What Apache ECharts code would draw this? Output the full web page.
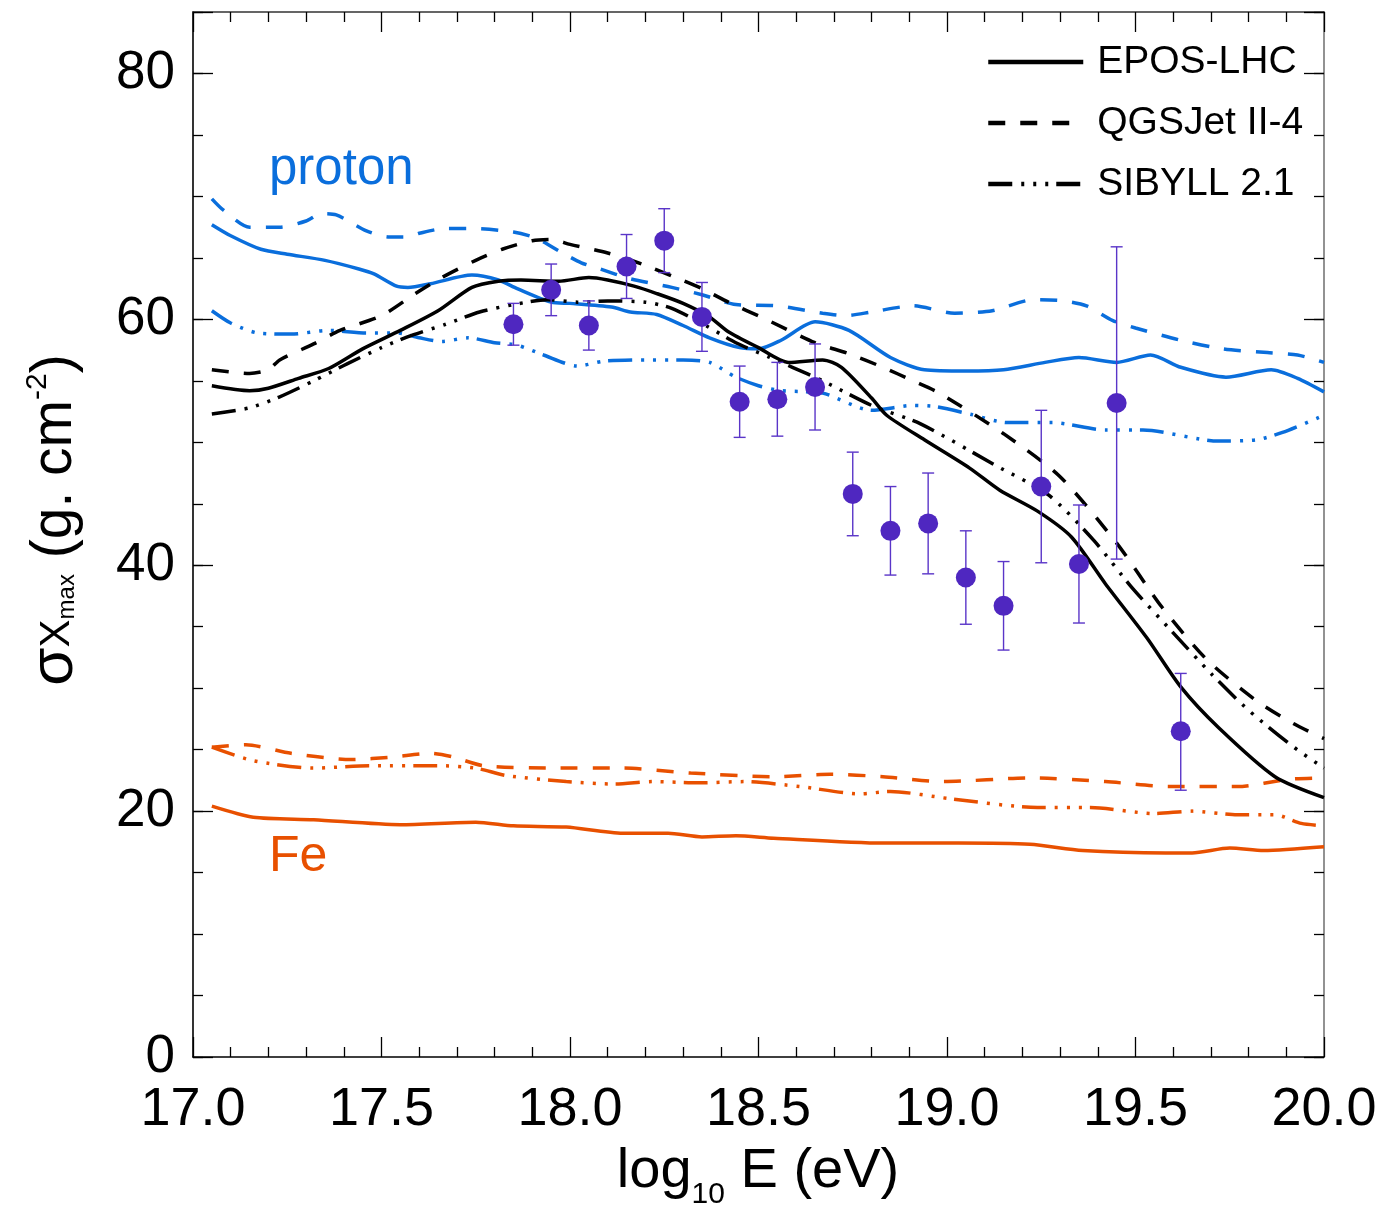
<!DOCTYPE html>
<html><head><meta charset="utf-8">
<script src="https://cdn.jsdelivr.net/npm/echarts@6/dist/echarts.min.js"></script>
<style>html,body{margin:0;padding:0;background:#fff}#c{width:1386px;height:1207px}</style>
</head><body><div id="c"></div>
<script>
// ---- data ----
const energies = [17.85,17.95,18.05,18.15,18.25,18.35,18.45,18.55,18.65,18.75,18.85,18.95,19.05,19.15,19.25,19.35,19.45,19.62];
const sigmaXmax = [59.6,62.4,59.5,64.3,66.4,60.2,53.3,53.5,54.5,45.8,42.8,43.4,39.0,36.7,46.4,40.1,53.2,26.5];
const errHigh = [61.3,64.5,61.5,66.9,69.0,63.0,56.2,56.5,58.0,49.2,46.4,47.5,42.8,40.3,52.6,44.9,65.9,31.2];
const errLow  = [57.9,60.3,57.5,61.7,63.8,57.4,50.4,50.5,51.0,42.4,39.2,39.3,35.2,33.1,40.2,35.3,40.5,21.7];

const protonEPOS = [[17.05,67.7],[17.1,66.8],[17.18,65.7],[17.25,65.3],[17.35,64.8],[17.44,64.1],[17.48,63.7],[17.54,62.7],[17.57,62.6],[17.63,62.9],[17.74,63.6],[17.81,63.2],[17.86,62.5],[17.95,61.4],[18.0,61.3],[18.11,61.0],[18.16,60.6],[18.23,60.4],[18.3,59.5],[18.37,58.5],[18.45,57.7],[18.5,57.6],[18.56,58.3],[18.65,59.8],[18.74,59.1],[18.85,56.9],[18.94,55.9],[19.05,55.8],[19.15,55.9],[19.26,56.5],[19.35,56.9],[19.45,56.5],[19.54,57.1],[19.62,56.1],[19.74,55.3],[19.86,55.9],[19.93,55.2],[20.0,54.1]];
const protonQGSJet = [[17.05,69.8],[17.08,68.9],[17.15,67.5],[17.23,67.5],[17.3,68.0],[17.34,68.6],[17.38,68.5],[17.46,67.2],[17.52,66.7],[17.57,66.7],[17.6,67.0],[17.67,67.4],[17.74,67.4],[17.85,67.1],[17.91,66.6],[17.98,65.4],[18.03,64.6],[18.08,64.1],[18.16,63.3],[18.27,62.6],[18.35,62.0],[18.44,61.2],[18.55,61.1],[18.67,60.5],[18.73,60.3],[18.8,60.6],[18.91,61.1],[19.02,60.5],[19.12,60.7],[19.23,61.6],[19.31,61.5],[19.37,61.1],[19.44,59.9],[19.5,59.3],[19.62,58.3],[19.73,57.6],[19.85,57.3],[19.93,57.1],[20.0,56.5]];
const protonSIBYLL = [[17.05,60.7],[17.1,59.7],[17.17,58.9],[17.26,58.8],[17.36,59.1],[17.46,58.9],[17.54,58.9],[17.6,58.5],[17.66,58.2],[17.73,58.5],[17.8,58.1],[17.86,57.9],[17.93,57.1],[18.02,56.2],[18.09,56.6],[18.2,56.7],[18.3,56.7],[18.37,56.5],[18.44,55.3],[18.5,54.6],[18.56,54.2],[18.67,54.0],[18.8,52.6],[18.91,53.0],[18.97,52.9],[19.06,52.3],[19.16,51.6],[19.28,51.6],[19.42,51.0],[19.52,51.0],[19.72,50.1],[19.82,50.2],[19.89,50.8],[20.0,52.2]];

const ironEPOS = [[17.05,20.4],[17.16,19.5],[17.32,19.3],[17.55,18.9],[17.75,19.1],[17.85,18.8],[17.99,18.7],[18.14,18.2],[18.26,18.2],[18.35,17.9],[18.44,18.0],[18.54,17.8],[18.83,17.4],[19.03,17.4],[19.22,17.3],[19.36,16.8],[19.58,16.6],[19.65,16.6],[19.75,17.0],[19.84,16.8],[20.0,17.1]];
const ironQGSJet = [[17.05,25.2],[17.14,25.4],[17.26,24.7],[17.42,24.2],[17.53,24.4],[17.63,24.7],[17.69,24.4],[17.77,23.7],[17.95,23.5],[18.14,23.5],[18.32,23.1],[18.54,22.8],[18.69,23.0],[18.83,22.8],[18.99,22.4],[19.22,22.7],[19.42,22.4],[19.59,22.0],[19.77,22.0],[19.91,22.6],[20.0,22.7]];
const ironSIBYLL = [[17.05,25.2],[17.16,24.1],[17.32,23.5],[17.47,23.7],[17.65,23.7],[17.75,23.5],[17.83,22.9],[17.99,22.4],[18.12,22.2],[18.22,22.4],[18.34,22.3],[18.46,22.4],[18.61,22.0],[18.77,21.4],[18.85,21.6],[19.01,21.0],[19.24,20.3],[19.38,20.3],[19.55,19.8],[19.65,20.0],[19.77,19.7],[19.87,19.7],[19.94,19.0],[20.0,18.8]];

const mixEPOS = [[17.05,54.6],[17.15,54.2],[17.2,54.4],[17.28,55.2],[17.36,56.0],[17.45,57.6],[17.55,59.1],[17.65,60.7],[17.74,62.6],[17.81,63.1],[17.87,63.2],[17.97,63.1],[18.05,63.4],[18.1,63.2],[18.17,62.7],[18.23,62.1],[18.3,61.3],[18.37,60.2],[18.42,59.0],[18.5,57.7],[18.58,56.5],[18.67,56.7],[18.72,56.1],[18.8,53.6],[18.84,52.2],[18.94,50.2],[19.06,47.9],[19.14,46.1],[19.24,44.4],[19.33,42.3],[19.42,38.5],[19.53,34.1],[19.62,30.1],[19.72,26.8],[19.87,22.8],[20.0,21.1]];
const mixQGSJet = [[17.05,55.9],[17.15,55.6],[17.2,55.9],[17.23,56.7],[17.32,58.0],[17.39,59.1],[17.5,60.3],[17.59,62.1],[17.66,63.4],[17.75,64.8],[17.82,65.7],[17.9,66.4],[17.95,66.5],[18.0,66.1],[18.1,65.4],[18.2,64.4],[18.28,63.4],[18.35,62.5],[18.42,61.4],[18.52,60.0],[18.65,58.1],[18.74,57.2],[18.83,56.1],[18.91,55.0],[18.98,54.0],[19.15,50.7],[19.3,47.2],[19.45,41.8],[19.57,36.6],[19.69,32.3],[19.82,29.0],[19.92,27.1],[20.0,25.9]];
const mixSIBYLL = [[17.05,52.3],[17.15,52.8],[17.23,53.7],[17.32,55.0],[17.41,56.4],[17.5,57.7],[17.58,58.7],[17.67,59.6],[17.76,60.6],[17.85,61.2],[17.94,61.6],[18.02,61.4],[18.1,61.5],[18.2,61.4],[18.27,60.9],[18.36,59.5],[18.44,58.1],[18.53,56.9],[18.59,56.1],[18.67,55.0],[18.8,53.0],[18.93,51.5],[19.13,48.1],[19.27,45.7],[19.39,42.0],[19.49,38.2],[19.6,34.5],[19.7,31.2],[19.8,28.2],[19.92,25.2],[20.0,23.5]];

const modelNames = ['EPOS-LHC','QGSJet II-4','SIBYLL 2.1'];

// ---- styling ----
const FONT = '"Liberation Sans", Arial, Helvetica, sans-serif';
const BLUE = '#0a6edc', ORANGE = '#e85000', PURPLE = '#4f27c0', BLACK = '#000';
const DASH = [17, 15];
const DDD = [24, 9, 3, 9, 3, 9, 3, 8];
const styles = ['solid', DASH, DDD];

function curve(name, data, color, type) {
  return {
    type: 'line', name: name, data: data, xAxisIndex: 0, yAxisIndex: 0,
    symbol: 'none', smooth: 0.25, silent: true, z: 3,
    lineStyle: { color: color, width: 3.5, type: type, cap: 'butt' }
  };
}

const series = [
  curve('pE', protonEPOS, BLUE, styles[0]),
  curve('pQ', protonQGSJet, BLUE, styles[1]),
  curve('pS', protonSIBYLL, BLUE, styles[2]),
  curve('fE', ironEPOS, ORANGE, styles[0]),
  curve('fQ', ironQGSJet, ORANGE, styles[1]),
  curve('fS', ironSIBYLL, ORANGE, styles[2]),
  curve('mE', mixEPOS, BLACK, styles[0]),
  curve('mQ', mixQGSJet, BLACK, styles[1]),
  curve('mS', mixSIBYLL, BLACK, styles[2]),
  {
    type: 'custom', name: 'err', xAxisIndex: 0, yAxisIndex: 0, z: 4, silent: true,
    data: energies.map((e, i) => [e, errLow[i], errHigh[i]]),
    encode: { x: 0, y: [1, 2] },
    renderItem: function (params, api) {
      const x = api.value(0);
      const pLo = api.coord([x, api.value(1)]);
      const pHi = api.coord([x, api.value(2)]);
      const cw = 6;
      const st = { stroke: '#5a35c8', lineWidth: 1.4 };
      return { type: 'group', children: [
        { type: 'line', shape: { x1: pLo[0], y1: pLo[1], x2: pHi[0], y2: pHi[1] }, style: st },
        { type: 'line', shape: { x1: pLo[0] - cw, y1: pLo[1], x2: pLo[0] + cw, y2: pLo[1] }, style: st },
        { type: 'line', shape: { x1: pHi[0] - cw, y1: pHi[1], x2: pHi[0] + cw, y2: pHi[1] }, style: st }
      ]};
    }
  },
  {
    type: 'scatter', name: 'data', xAxisIndex: 0, yAxisIndex: 0, z: 5, silent: true,
    symbol: 'circle', symbolSize: 20, itemStyle: { color: PURPLE, opacity: 1 },
    data: energies.map((e, i) => [e, sigmaXmax[i]])
  }
];
modelNames.forEach((n, i) => series.push({
  type: 'line', name: n, data: [], symbol: 'none', xAxisIndex: 0, yAxisIndex: 0,
  lineStyle: { color: BLACK, width: 4.5, type: styles[i], cap: 'butt' }, itemStyle: { color: BLACK }
}));

const tickStyle = { color: '#000', width: 1.3 };
function xAx(pos, showLabel, lineColor) {
  return {
    type: 'value', min: 17, max: 20, interval: 0.5, position: pos,
    axisLine: { show: true, onZero: false, lineStyle: { color: lineColor, width: 1.6 } },
    axisTick: { show: true, inside: true, length: 20, lineStyle: tickStyle },
    minorTick: { show: true, splitNumber: 5, length: 10, lineStyle: tickStyle },
    splitLine: { show: false }, minorSplitLine: { show: false },
    axisLabel: { show: showLabel, fontSize: 54, color: '#000', fontFamily: FONT, margin: 26,
      showMinLabel: true, showMaxLabel: true, hideOverlap: false, formatter: v => v.toFixed(1) }
  };
}
function yAx(pos, interval, tickLen, showLabel, showLine, lineColor) {
  return {
    type: 'value', min: 0, max: 85, interval: interval, position: pos, offset: 0,
    axisLine: { show: showLine, onZero: false, lineStyle: { color: lineColor, width: 1.6 } },
    axisTick: { show: true, inside: true, length: tickLen, lineStyle: tickStyle },
    splitLine: { show: false },
    axisLabel: { show: showLabel, fontSize: 53, color: '#000', fontFamily: FONT, margin: 18,
      showMinLabel: true, showMaxLabel: true, formatter: v => (v % 20 === 0 ? String(v) : '') }
  };
}

const option = {
  animation: false,
  backgroundColor: '#fff',
  grid: { left: 193, right: 62, top: 12, bottom: 150, containLabel: false, outerBoundsMode: 'none' },
  xAxis: [xAx('bottom', true, '#000'), xAx('top', false, '#333')],
  yAxis: [
    yAx('left', 20, 20, true, true, '#000'),
    yAx('left', 5, 10, false, false, '#000'),
    yAx('right', 20, 20, false, true, '#777'),
    yAx('right', 5, 10, false, false, '#777')
  ],
  legend: {
    data: modelNames, orient: 'vertical', left: 981, top: 37,
    itemWidth: 95, itemHeight: 14, itemGap: 21, selectedMode: false,
    lineStyle: { width: 4.5 },
    itemStyle: { opacity: 0, borderWidth: 0 },
    textStyle: { fontSize: 39, color: '#000', fontFamily: FONT, lineHeight: 40, padding: [0, 0, 0, 9] }
  },
  graphic: [
    { type: 'text', x: 269, y: 170, silent: true,
      style: { text: 'proton', fill: BLUE, fontSize: 51, fontFamily: FONT, verticalAlign: 'middle' } },
    { type: 'text', x: 269, y: 857, silent: true,
      style: { text: 'Fe', fill: ORANGE, fontSize: 50, fontFamily: FONT, verticalAlign: 'middle' } },
    { type: 'text', x: 758, y: 1172, silent: true,
      style: { text: '{a|log}{s|10}{a| E (eV)}', align: 'center', verticalAlign: 'middle', fill: '#000', fontFamily: FONT,
        rich: { a: { fontSize: 56, lineHeight: 76, fontFamily: FONT, fill: '#000' },
                s: { fontSize: 30, fontFamily: FONT, fill: '#000', verticalAlign: 'bottom' } } } },
    { type: 'text', x: 55, y: 520, rotation: Math.PI / 2, silent: true,
      style: { text: '{g|σ}{X|X}{m|max}{a| (g. cm}{p|-2}{a|)}', align: 'center', verticalAlign: 'middle', fill: '#000', fontFamily: FONT,
        rich: { g: { fontSize: 62, lineHeight: 92, fontFamily: FONT, fill: '#000' },
                X: { fontSize: 42, fontFamily: FONT, fill: '#000', padding: [4, 0, 0, 0] },
                m: { fontSize: 24, fontFamily: FONT, fill: '#000', verticalAlign: 'bottom', padding: [0, 0, 22, 0] },
                a: { fontSize: 57, lineHeight: 92, fontFamily: FONT, fill: '#000' },
                p: { fontSize: 30, fontFamily: FONT, fill: '#000', verticalAlign: 'top', padding: [14, 0, 0, 0] } } } }
  ],
  series: series
};

const chart = echarts.init(document.getElementById('c'), null, { renderer: 'canvas', width: 1386, height: 1207 });
chart.setOption(option);
</script>
</body></html>
